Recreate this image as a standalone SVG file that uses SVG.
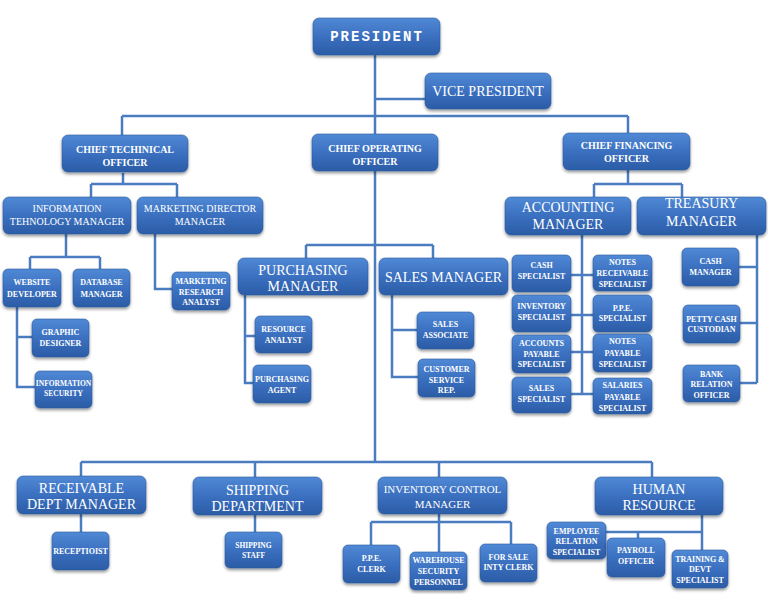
<svg xmlns="http://www.w3.org/2000/svg" width="768" height="594" viewBox="0 0 768 594">
<defs>
<linearGradient id="g" x1="0" y1="0" x2="0" y2="1">
<stop offset="0" stop-color="#5089d5"/>
<stop offset="0.5" stop-color="#3b70c0"/>
<stop offset="1" stop-color="#2b5ca6"/>
</linearGradient>
<filter id="sh" x="-10%" y="-10%" width="120%" height="140%">
<feDropShadow dx="0" dy="2" stdDeviation="1.5" flood-color="#000" flood-opacity="0.4"/>
</filter>
<style>
.b{fill:url(#g);stroke:#2d5a9e;stroke-width:0.6;filter:url(#sh)}
.t{fill:#fff;font-family:"Liberation Serif",serif;text-anchor:middle}
.s{font-size:8px;font-weight:bold}
.xs{font-size:7.5px;font-weight:bold}
.m{font-size:10px;font-weight:bold}
.r{font-size:10px}
.r10{font-size:11px}
.l{font-size:14px}
.v{font-size:14px}
.p{font-family:"Liberation Mono",monospace;font-weight:bold;font-size:14px;letter-spacing:2px}
.c{fill:none;stroke:#4a7cbf;stroke-width:2.5}
</style>
</defs>
<rect width="768" height="594" fill="#fff"/>
<g id="connectors" class="c">
<path d="M375 55V462M375 99H425M122 116H628M122 116V135M628 116V133"/>
<path d="M123 173V184M91 184H177M91 184V197M177 184V197"/>
<path d="M66 234V257M30 257H100M30 257V269M100 257V269"/>
<path d="M17 307V387H35M17 337H32"/>
<path d="M155 234V289H172"/>
<path d="M306 245H433M306 245V258M433 245V258"/>
<path d="M245 295V383H253M245 336H255"/>
<path d="M392 295V377H418M392 330H417"/>
<path d="M628 170V184M594 184H682M594 184V197M682 184V197"/>
<path d="M582 235V395M571 275H593M571 315H593M571 352H593M571 394H593"/>
<path d="M757 234V383M739 267H757M740 323H757M740 383H757"/>
<path d="M81 462H652M81 462V476M255 462V477M439 462V477M652 462V477"/>
<path d="M81 514V532M255 515V532"/>
<path d="M439 514V552M371 522H511M371 522V545M511 522V544"/>
<path d="M702 515V550M605 532H702M638 532V538"/>
</g>
<g id="president"><rect class="b" x="313" y="18" width="127" height="37" rx="6"/><text class="t p" x="377" y="41">PRESIDENT</text></g>
<g id="vice-president"><rect class="b" x="425" y="73" width="126" height="36" rx="6"/><text class="t v" x="488" y="96">VICE PRESIDENT</text></g>
<g id="cto"><rect class="b" x="62" y="135" width="126" height="37" rx="6"/><text class="t m" x="125"><tspan x="125" y="153">CHIEF TECHINICAL</tspan><tspan x="125" y="166">OFFICER</tspan></text></g>
<g id="coo"><rect class="b" x="312" y="134" width="126" height="37" rx="6"/><text class="t m" x="375"><tspan x="375" y="152">CHIEF OPERATING</tspan><tspan x="375" y="165">OFFICER</tspan></text></g>
<g id="cfo"><rect class="b" x="563" y="133" width="127" height="37" rx="6"/><text class="t m" x="626.5"><tspan x="626.5" y="149">CHIEF FINANCING</tspan><tspan x="626.5" y="162">OFFICER</tspan></text></g>
<g id="it-manager"><rect class="b" x="3" y="197" width="128" height="37" rx="6"/><text class="t r"><tspan x="67" y="212">INFORMATION</tspan><tspan x="67" y="225">TEHNOLOGY MANAGER</tspan></text></g>
<g id="marketing-director"><rect class="b" x="137" y="197" width="126" height="37" rx="6"/><text class="t r"><tspan x="200" y="212">MARKETING DIRECTOR</tspan><tspan x="200" y="225">MANAGER</tspan></text></g>
<g id="website-developer"><rect class="b" x="3" y="269" width="58" height="38" rx="5"/><text class="t s"><tspan x="32" y="285">WEBSITE</tspan><tspan x="32" y="297">DEVELOPER</tspan></text></g>
<g id="database-manager"><rect class="b" x="73" y="269" width="57" height="38" rx="5"/><text class="t s"><tspan x="101.5" y="285">DATABASE</tspan><tspan x="101.5" y="297">MANAGER</tspan></text></g>
<g id="graphic-designer"><rect class="b" x="32" y="319" width="57" height="38" rx="5"/><text class="t s"><tspan x="60.5" y="335">GRAPHIC</tspan><tspan x="60.5" y="346">DESIGNER</tspan></text></g>
<g id="information-security"><rect class="b" x="35" y="371" width="57" height="37" rx="5"/><text class="t xs"><tspan x="63.5" y="386">INFORMATION</tspan><tspan x="63.5" y="395.5">SECURITY</tspan></text></g>
<g id="marketing-research"><rect class="b" x="172" y="272" width="58" height="38" rx="5"/><text class="t s"><tspan x="201" y="284">MARKETING</tspan><tspan x="201" y="294.5">RESEARCH</tspan><tspan x="201" y="305">ANALYST</tspan></text></g>
<g id="purchasing-manager"><rect class="b" x="238" y="258" width="130" height="37" rx="6"/><text class="t l"><tspan x="303" y="275">PURCHASING</tspan><tspan x="303" y="291">MANAGER</tspan></text></g>
<g id="sales-manager"><rect class="b" x="379" y="258" width="129" height="37" rx="6"/><text class="t l" x="443.5" y="282">SALES MANAGER</text></g>
<g id="resource-analyst"><rect class="b" x="255" y="316" width="57" height="37" rx="5"/><text class="t s"><tspan x="283.5" y="332">RESOURCE</tspan><tspan x="283.5" y="343">ANALYST</tspan></text></g>
<g id="purchasing-agent"><rect class="b" x="253" y="365" width="58" height="38" rx="5"/><text class="t s"><tspan x="282" y="382">PURCHASING</tspan><tspan x="282" y="392.5">AGENT</tspan></text></g>
<g id="sales-associate"><rect class="b" x="417" y="312" width="57" height="37" rx="5"/><text class="t s"><tspan x="445.5" y="326.5">SALES</tspan><tspan x="445.5" y="337.5">ASSOCIATE</tspan></text></g>
<g id="customer-service"><rect class="b" x="418" y="359" width="57" height="38" rx="5"/><text class="t s"><tspan x="446.5" y="372">CUSTOMER</tspan><tspan x="446.5" y="382.5">SERVICE</tspan><tspan x="446.5" y="393">REP.</tspan></text></g>
<g id="accounting-manager"><rect class="b" x="505" y="197" width="126" height="38" rx="6"/><text class="t l"><tspan x="568" y="212">ACCOUNTING</tspan><tspan x="568" y="229">MANAGER</tspan></text></g>
<g id="treasury-manager"><rect class="b" x="637" y="197" width="129" height="38" rx="6"/><text class="t l"><tspan x="701.5" y="208">TREASURY</tspan><tspan x="701.5" y="226">MANAGER</tspan></text></g>
<g id="cash-specialist"><rect class="b" x="512" y="255" width="59" height="37" rx="5"/><text class="t s"><tspan x="541.5" y="267.5">CASH</tspan><tspan x="541.5" y="279">SPECIALIST</tspan></text></g>
<g id="inventory-specialist"><rect class="b" x="512" y="295" width="59" height="37" rx="5"/><text class="t s"><tspan x="541.5" y="309">INVENTORY</tspan><tspan x="541.5" y="320">SPECIALIST</tspan></text></g>
<g id="ap-specialist"><rect class="b" x="512" y="335" width="59" height="38" rx="5"/><text class="t s"><tspan x="541.5" y="346">ACCOUNTS</tspan><tspan x="541.5" y="356.5">PAYABLE</tspan><tspan x="541.5" y="367">SPECIALIST</tspan></text></g>
<g id="sales-specialist"><rect class="b" x="512" y="377" width="59" height="36" rx="5"/><text class="t s"><tspan x="541.5" y="391">SALES</tspan><tspan x="541.5" y="402">SPECIALIST</tspan></text></g>
<g id="notes-receivable"><rect class="b" x="593" y="255" width="59" height="36" rx="5"/><text class="t s"><tspan x="622.5" y="265">NOTES</tspan><tspan x="622.5" y="276">RECEIVABLE</tspan><tspan x="622.5" y="287">SPECIALIST</tspan></text></g>
<g id="ppe-specialist"><rect class="b" x="593" y="295" width="59" height="37" rx="5"/><text class="t s"><tspan x="622.5" y="311">P.P.E.</tspan><tspan x="622.5" y="321">SPECIALIST</tspan></text></g>
<g id="notes-payable"><rect class="b" x="593" y="334" width="59" height="38" rx="5"/><text class="t s"><tspan x="622.5" y="344">NOTES</tspan><tspan x="622.5" y="355.5">PAYABLE</tspan><tspan x="622.5" y="366.5">SPECIALIST</tspan></text></g>
<g id="salaries-payable"><rect class="b" x="593" y="378" width="59" height="36" rx="5"/><text class="t s"><tspan x="622.5" y="388">SALARIES</tspan><tspan x="622.5" y="399.5">PAYABLE</tspan><tspan x="622.5" y="410.5">SPECIALIST</tspan></text></g>
<g id="cash-manager"><rect class="b" x="682" y="248" width="57" height="38" rx="5"/><text class="t s"><tspan x="710.5" y="263.5">CASH</tspan><tspan x="710.5" y="274.5">MANAGER</tspan></text></g>
<g id="petty-cash"><rect class="b" x="683" y="305" width="57" height="38" rx="5"/><text class="t s"><tspan x="711.5" y="321.5">PETTY CASH</tspan><tspan x="711.5" y="331.5">CUSTODIAN</tspan></text></g>
<g id="bank-relation"><rect class="b" x="683" y="365" width="57" height="37" rx="5"/><text class="t s"><tspan x="711.5" y="376.5">BANK</tspan><tspan x="711.5" y="387">RELATION</tspan><tspan x="711.5" y="398">OFFICER</tspan></text></g>
<g id="receivable-manager"><rect class="b" x="17" y="476" width="129" height="38" rx="6"/><text class="t l"><tspan x="81.5" y="493">RECEIVABLE</tspan><tspan x="81.5" y="509">DEPT MANAGER</tspan></text></g>
<g id="shipping-department"><rect class="b" x="193" y="477" width="129" height="38" rx="6"/><text class="t l"><tspan x="257.5" y="494.5">SHIPPING</tspan><tspan x="257.5" y="511">DEPARTMENT</tspan></text></g>
<g id="inventory-control"><rect class="b" x="378" y="477" width="129" height="37" rx="6"/><text class="t r10"><tspan x="442.5" y="493">INVENTORY CONTROL</tspan><tspan x="442.5" y="508">MANAGER</tspan></text></g>
<g id="human-resource"><rect class="b" x="595" y="477" width="128" height="38" rx="6"/><text class="t l"><tspan x="659" y="494">HUMAN</tspan><tspan x="659" y="510">RESOURCE</tspan></text></g>
<g id="receptionist"><rect class="b" x="52" y="532" width="57" height="38" rx="5"/><text class="t s" x="80.5" y="554">RECEPTIOIST</text></g>
<g id="shipping-staff"><rect class="b" x="225" y="532" width="57" height="36" rx="5"/><text class="t xs"><tspan x="253.5" y="547.5">SHIPPING</tspan><tspan x="253.5" y="557.5">STAFF</tspan></text></g>
<g id="ppe-clerk"><rect class="b" x="343" y="545" width="57" height="38" rx="5"/><text class="t s"><tspan x="371.5" y="561">P.P.E.</tspan><tspan x="371.5" y="571.5">CLERK</tspan></text></g>
<g id="warehouse-security"><rect class="b" x="410" y="552" width="57" height="38" rx="5"/><text class="t s"><tspan x="438.5" y="563">WAREHOUSE</tspan><tspan x="438.5" y="574">SECURITY</tspan><tspan x="438.5" y="585">PERSONNEL</tspan></text></g>
<g id="for-sale-clerk"><rect class="b" x="480" y="544" width="57" height="38" rx="5"/><text class="t s"><tspan x="508.5" y="559.5">FOR SALE</tspan><tspan x="508.5" y="570">INTY CLERK</tspan></text></g>
<g id="employee-relation"><rect class="b" x="547" y="522" width="59" height="37" rx="5"/><text class="t s"><tspan x="576.5" y="533.5">EMPLOYEE</tspan><tspan x="576.5" y="544">RELATION</tspan><tspan x="576.5" y="555">SPECIALIST</tspan></text></g>
<g id="payroll-officer"><rect class="b" x="607" y="538" width="58" height="39" rx="5"/><text class="t s"><tspan x="636" y="553">PAYROLL</tspan><tspan x="636" y="564">OFFICER</tspan></text></g>
<g id="training-specialist"><rect class="b" x="672" y="550" width="56" height="38" rx="5"/><text class="t s"><tspan x="700" y="562">TRAINING &amp;</tspan><tspan x="700" y="572">DEVT</tspan><tspan x="700" y="583">SPECIALIST</tspan></text></g>
</svg>
